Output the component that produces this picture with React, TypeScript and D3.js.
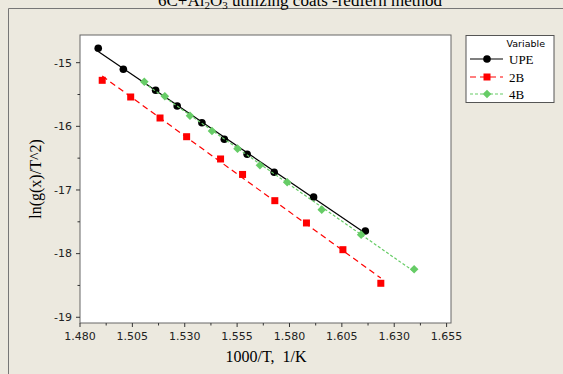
import React from "react";
import * as d3 from "d3";

// 1000/T (1/K) and ln(g(x)/T^2) for each series
const upeX = [1.4887, 1.5007, 1.5161, 1.5264, 1.5382, 1.5489, 1.5598, 1.5727, 1.5915, 1.6162];
const upeY = [-14.774, -15.104, -15.434, -15.68, -15.943, -16.202, -16.439, -16.722, -17.11, -17.644];
const b2X = [1.4906, 1.5042, 1.5182, 1.5309, 1.5471, 1.5576, 1.573, 1.5881, 1.6055, 1.6236];
const b2Y = [-15.277, -15.539, -15.869, -16.163, -16.513, -16.756, -17.168, -17.518, -17.938, -18.466];
const b4X = [1.5107, 1.5205, 1.5325, 1.543, 1.5552, 1.5659, 1.5789, 1.5954, 1.6142, 1.6395];
const b4Y = [-15.299, -15.528, -15.833, -16.073, -16.351, -16.612, -16.879, -17.309, -17.702, -18.246];

const xTicks = [1.48, 1.505, 1.53, 1.555, 1.58, 1.605, 1.63, 1.655];
const yTicks = [-15, -16, -17, -18, -19];
const legendLabels = ["UPE", "2B", "4B"];

const W = 563;
const H = 374;
const plot = { left: 80, right: 451, top: 35, bottom: 323 };

const x = d3.scaleLinear().domain([1.48, 1.6571]).range([plot.left, plot.right]);
const y = d3.scaleLinear().domain([-14.565, -19.09]).range([plot.top, plot.bottom]);

// least-squares line over the span of a series
function fit(xs: number[], ys: number[]) {
  const mx = d3.mean(xs)!;
  const my = d3.mean(ys)!;
  let num = 0;
  let den = 0;
  xs.forEach((v, i) => {
    num += (v - mx) * (ys[i] - my);
    den += (v - mx) * (v - mx);
  });
  const b = num / den;
  const a = my - b * mx;
  const x0 = d3.min(xs)!;
  const x1 = d3.max(xs)!;
  return [
    [x0, a + b * x0],
    [x1, a + b * x1],
  ] as [number, number][];
}

const line = d3
  .line<[number, number]>()
  .x((d) => x(d[0]))
  .y((d) => y(d[1]));

const BG = "#ECE9DF";
const SANS = "DejaVu Sans, Verdana, sans-serif";
const SERIF = "Liberation Serif, Times New Roman, serif";

const series = [
  { name: "UPE", xs: upeX, ys: upeY, color: "#000000", dash: "", width: 1.2, shape: "circle" },
  { name: "2B", xs: b2X, ys: b2Y, color: "#FF0000", dash: "6,4", width: 1.2, shape: "square" },
  { name: "4B", xs: b4X, ys: b4Y, color: "#66CC66", dash: "3,2", width: 1.2, shape: "diamond" },
];

function Marker({ cx, cy, shape, color }: { cx: number; cy: number; shape: string; color: string }) {
  if (shape === "circle") return <circle cx={cx} cy={cy} r={3.8} fill={color} />;
  if (shape === "square") return <rect x={cx - 3.5} y={cy - 3.5} width={7} height={7} fill={color} />;
  const s = 4.3;
  return <path d={`M${cx},${cy - s}L${cx + s},${cy}L${cx},${cy + s}L${cx - s},${cy}Z`} fill={color} />;
}

export default function App() {
  const xMinor = d3.range(0, 7).map((i) => 1.4925 + i * 0.025);
  const yMinor = [-15.5, -16.5, -17.5, -18.5];
  const legendY = [59, 77, 94];
  return (
    <svg
      width={W}
      height={H}
      style={{ position: "absolute", left: 0, top: 0, display: "block" }}
    >
      <rect x={0} y={0} width={W} height={H} fill={BG} />
      {/* outer frame */}
      <line x1={8.5} y1={8.5} x2={W} y2={8.5} stroke="#777" strokeWidth={1} />
      <line x1={8.5} y1={8.5} x2={8.5} y2={H} stroke="#777" strokeWidth={1} />
      <text
        x={300}
        y={5.5}
        textAnchor="middle"
        fontFamily={SERIF}
        fontSize={17}
        fill="#000"
      >
        6C+Al
        <tspan fontSize={11} dy={3}>2</tspan>
        <tspan dy={-3}>O</tspan>
        <tspan fontSize={11} dy={3}>3</tspan>
        <tspan dy={-3}> utilizing coats -redfern method</tspan>
      </text>

      {/* plot area */}
      <rect
        x={plot.left}
        y={plot.top}
        width={plot.right - plot.left}
        height={plot.bottom - plot.top}
        fill="#fff"
        stroke="#666"
        strokeWidth={1}
      />

      {/* axes ticks */}
      {xTicks.map((t) => (
        <g key={"xt" + t}>
          <line x1={x(t)} x2={x(t)} y1={plot.bottom} y2={plot.bottom + 4} stroke="#333" />
          <text x={x(t)} y={339.5} textAnchor="middle" fontFamily={SANS} fontSize={11} fill="#222">
            {t.toFixed(3)}
          </text>
        </g>
      ))}
      {xMinor.map((t) => (
        <line key={"xm" + t} x1={x(t)} x2={x(t)} y1={plot.bottom} y2={plot.bottom + 2.5} stroke="#333" />
      ))}
      {yTicks.map((t) => (
        <g key={"yt" + t}>
          <line x1={plot.left - 4} x2={plot.left} y1={y(t)} y2={y(t)} stroke="#333" />
          <text
            x={plot.left - 8}
            y={y(t)}
            dy="0.35em"
            textAnchor="end"
            fontFamily={SANS}
            fontSize={11}
            fill="#222"
          >
            {t}
          </text>
        </g>
      ))}
      {yMinor.map((t) => (
        <line key={"ym" + t} x1={plot.left - 2.5} x2={plot.left} y1={y(t)} y2={y(t)} stroke="#333" />
      ))}

      {/* axis titles */}
      <text
        x={266}
        y={362}
        textAnchor="middle"
        fontFamily={SERIF}
        fontSize={16}
        fill="#000"
        style={{ whiteSpace: "pre" }}
      >
        {"1000/T,  1/K"}
      </text>
      <text
        transform={`translate(41,${(plot.top + plot.bottom) / 2}) rotate(-90)`}
        textAnchor="middle"
        fontFamily={SERIF}
        fontSize={16}
        fill="#000"
      >
        ln(g(x)/T^2)
      </text>

      {/* fitted lines and points */}
      {series.map((s) => (
        <g key={s.name}>
          <path
            d={line(fit(s.xs, s.ys)) || ""}
            fill="none"
            stroke={s.color}
            strokeWidth={s.width}
            strokeDasharray={s.dash}
          />
          {s.xs.map((v, i) => (
            <Marker key={i} cx={x(v)} cy={y(s.ys[i])} shape={s.shape} color={s.color} />
          ))}
        </g>
      ))}

      {/* legend */}
      <rect x={466} y={35.5} width={88} height={67} fill="#fff" stroke="#555" strokeWidth={1} />
      <text x={545} y={43.5} dy="0.35em" textAnchor="end" fontFamily={SANS} fontSize={9.5} fill="#000">
        Variable
      </text>
      {series.map((s, i) => (
        <g key={"lg" + s.name}>
          <line
            x1={470}
            x2={503}
            y1={legendY[i]}
            y2={legendY[i]}
            stroke={s.color}
            strokeWidth={s.width}
            strokeDasharray={s.dash}
          />
          <Marker cx={487} cy={legendY[i]} shape={s.shape} color={s.color} />
          <text x={509} y={legendY[i]} dy="0.35em" fontFamily={SERIF} fontSize={13} fill="#000">
            {legendLabels[i]}
          </text>
        </g>
      ))}
    </svg>
  );
}
